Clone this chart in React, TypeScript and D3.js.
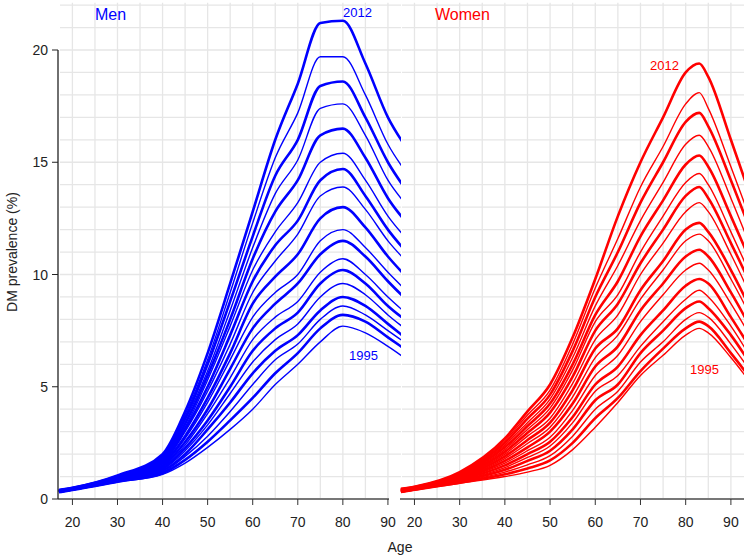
import * as d3 from "d3"

const years = d3.range(1995, 2013)

const menAges = [17, 20, 30, 40, 45, 50, 55, 60, 65, 70, 75, 80, 85, 90, 95]
const menValues = [
  [0.3, 0.4, 0.75, 1.1, 1.6, 2.3, 3.1, 4.0, 5.1, 6.0, 7.0, 7.7, 7.4, 6.8, 6.1],
  [0.3, 0.4, 0.77, 1.15, 1.74, 2.55, 3.5, 4.5, 5.6, 6.5, 7.6, 8.2, 7.9, 7.2, 6.5],
  [0.31, 0.41, 0.79, 1.2, 1.9, 2.8, 3.9, 5.1, 6.2, 6.9, 8.0, 8.6, 8.2, 7.5, 6.8],
  [0.32, 0.42, 0.8, 1.26, 2.0, 3.1, 4.3, 5.6, 6.6, 7.3, 8.4, 9.0, 8.6, 7.8, 7.0],
  [0.32, 0.42, 0.82, 1.32, 2.15, 3.3, 4.7, 6.1, 7.1, 7.8, 9.0, 9.6, 9.1, 8.2, 7.4],
  [0.33, 0.43, 0.84, 1.36, 2.27, 3.5, 5.0, 6.6, 7.6, 8.3, 9.6, 10.2, 9.6, 8.6, 7.8],
  [0.34, 0.44, 0.85, 1.42, 2.4, 3.8, 5.4, 7.1, 8.1, 8.8, 10.1, 10.7, 10.0, 9.0, 8.1],
  [0.34, 0.44, 0.87, 1.47, 2.54, 4.0, 5.8, 7.6, 8.7, 9.6, 10.9, 11.5, 10.8, 9.7, 8.7],
  [0.35, 0.45, 0.89, 1.52, 2.7, 4.3, 6.2, 8.1, 9.2, 10.0, 11.5, 12.0, 11.2, 10.1, 9.1],
  [0.35, 0.45, 0.91, 1.58, 2.8, 4.5, 6.5, 8.7, 9.9, 10.9, 12.5, 13.0, 12.1, 10.8, 9.7],
  [0.36, 0.46, 0.93, 1.63, 3.0, 4.8, 6.9, 9.2, 10.6, 11.8, 13.5, 13.9, 12.9, 11.5, 10.4],
  [0.36, 0.46, 0.95, 1.68, 3.1, 5.0, 7.3, 9.7, 11.3, 12.4, 14.2, 14.7, 13.5, 12.0, 10.8],
  [0.37, 0.47, 0.96, 1.74, 3.2, 5.3, 7.7, 10.2, 11.9, 13.2, 15.0, 15.4, 14.2, 12.6, 11.4],
  [0.38, 0.48, 0.98, 1.78, 3.35, 5.5, 8.0, 10.7, 12.8, 14.2, 16.2, 16.5, 15.2, 13.4, 12.1],
  [0.38, 0.48, 1.0, 1.84, 3.5, 5.7, 8.4, 11.2, 13.6, 15.1, 17.4, 17.6, 16.2, 14.2, 12.9],
  [0.39, 0.49, 1.01, 1.9, 3.6, 6.0, 8.8, 11.7, 14.4, 16.0, 18.4, 18.6, 17.0, 15.0, 13.5],
  [0.39, 0.49, 1.03, 1.95, 3.75, 6.2, 9.2, 12.3, 15.2, 17.2, 19.7, 19.7, 18.0, 15.8, 14.3],
  [0.4, 0.5, 1.05, 2.0, 3.9, 6.5, 9.6, 12.8, 16.0, 18.5, 21.2, 21.3, 19.4, 17.0, 15.4],
]

const womenAges = [17, 20, 30, 40, 45, 50, 55, 60, 65, 70, 75, 80, 83, 85, 90, 95]
const womenValues = [
  [0.3, 0.4, 0.7, 1.0, 1.2, 1.5, 2.2, 3.2, 4.3, 5.5, 6.4, 7.3, 7.6, 7.4, 6.3, 5.0],
  [0.31, 0.41, 0.73, 1.1, 1.36, 1.72, 2.5, 3.6, 4.5, 5.7, 6.7, 7.6, 7.9, 7.7, 6.5, 5.2],
  [0.32, 0.42, 0.76, 1.2, 1.52, 1.93, 2.8, 4.0, 4.8, 6.1, 7.0, 8.0, 8.3, 8.1, 6.9, 5.5],
  [0.33, 0.43, 0.79, 1.3, 1.7, 2.15, 3.1, 4.4, 5.1, 6.5, 7.5, 8.5, 8.8, 8.5, 7.3, 5.8],
  [0.34, 0.44, 0.82, 1.4, 1.85, 2.36, 3.4, 4.8, 5.5, 6.8, 7.9, 8.9, 9.3, 9.0, 7.7, 6.1],
  [0.34, 0.44, 0.85, 1.5, 2.0, 2.55, 3.65, 5.1, 5.9, 7.3, 8.4, 9.5, 9.8, 9.6, 8.1, 6.5],
  [0.35, 0.45, 0.88, 1.6, 2.15, 2.75, 3.95, 5.5, 6.4, 7.9, 9.1, 10.2, 10.5, 10.2, 8.7, 7.0],
  [0.36, 0.46, 0.9, 1.7, 2.3, 3.0, 4.25, 5.9, 6.8, 8.4, 9.6, 10.8, 11.1, 10.8, 9.2, 7.4],
  [0.37, 0.47, 0.93, 1.8, 2.47, 3.2, 4.55, 6.3, 7.3, 8.9, 10.2, 11.5, 11.8, 11.5, 9.8, 7.9],
  [0.38, 0.48, 0.96, 1.9, 2.63, 3.4, 4.85, 6.7, 7.6, 9.3, 10.6, 12.0, 12.3, 11.9, 10.2, 8.2],
  [0.39, 0.49, 1.0, 2.0, 2.8, 3.6, 5.15, 7.1, 8.2, 10.0, 11.4, 12.8, 13.2, 12.8, 10.9, 8.8],
  [0.4, 0.5, 1.03, 2.1, 2.95, 3.85, 5.45, 7.5, 8.7, 10.5, 12.0, 13.5, 13.9, 13.4, 11.4, 9.3],
  [0.41, 0.51, 1.06, 2.2, 3.1, 4.05, 5.75, 7.9, 9.1, 11.0, 12.6, 14.1, 14.5, 14.0, 11.9, 9.7],
  [0.41, 0.51, 1.08, 2.3, 3.25, 4.25, 6.0, 8.2, 9.7, 11.7, 13.3, 14.9, 15.3, 14.8, 12.6, 10.3],
  [0.42, 0.52, 1.11, 2.4, 3.4, 4.45, 6.3, 8.6, 10.4, 12.4, 14.1, 15.8, 16.2, 15.7, 13.4, 10.9],
  [0.43, 0.53, 1.14, 2.5, 3.58, 4.65, 6.6, 9.0, 11.0, 13.2, 15.0, 16.8, 17.2, 16.6, 14.2, 11.6],
  [0.44, 0.54, 1.17, 2.6, 3.74, 4.85, 6.9, 9.4, 11.6, 13.9, 15.7, 17.6, 18.1, 17.4, 14.8, 12.1],
  [0.45, 0.55, 1.2, 2.7, 3.9, 5.1, 7.2, 9.8, 12.6, 15.0, 17.0, 19.0, 19.4, 18.8, 16.0, 13.1],
]

const xTicks = [20, 30, 40, 50, 60, 70, 80, 90]
const yTicks = [0, 5, 10, 15, 20]

const font = "Liberation Sans, Arial, sans-serif"
const y = d3.scaleLinear().domain([0, 20]).range([499, 50])

interface PanelProps {
  id: string
  ages: number[]
  values: number[][]
  color: string
  range: [number, number]
  axisEnd: number
  title: string
  titleX: number
  topLabel: [number, number]
  bottomLabel: [number, number]
}

const Panel = (p: PanelProps) => {
  const x = d3.scaleLinear().domain([16.8, 92.9]).range(p.range)
  const line = d3
    .line<number>()
    .x((_, i) => x(p.ages[i]))
    .y((d) => y(d))
    .curve(d3.curveMonotoneX)
  const gridX = d3.range(20, 95, 5)
  const gridY = d3.range(1, 23)
  return (
    <g>
      <clipPath id={p.id}>
        <rect x={p.range[0]} y={0} width={p.range[1] - p.range[0]} height={500} />
      </clipPath>
      <g stroke="#e6e6e6" strokeWidth={1.3}>
        {gridX.map((a) => (
          <line key={"gx" + a} x1={x(a)} x2={x(a)} y1={y(0)} y2={y(22.1)} />
        ))}
        {gridY.map((v) => (
          <line key={"gy" + v} x1={p.range[0] + 2} x2={p.range[1]} y1={y(v)} y2={y(v)} />
        ))}
      </g>
      <g clipPath={`url(#${p.id})`} fill="none" stroke={p.color}>
        {p.values.map((row, i) => (
          <path key={years[i]} d={line(row) ?? ""} strokeWidth={(17 - i) % 2 === 0 ? 2.6 : 1.4} />
        ))}
      </g>
      <line x1={p.range[0]} x2={p.axisEnd} y1={499} y2={499} stroke="#777" strokeWidth={2} />
      {xTicks.map((t) => (
        <g key={t}>
          <line x1={x(t)} x2={x(t)} y1={499} y2={505} stroke="#333" />
          <text x={x(t)} y={527} textAnchor="middle" fontSize={14} fontFamily={font} fill="#222">
            {t}
          </text>
        </g>
      ))}
      <text x={p.titleX} y={20} fontSize={16} fontFamily={font} fill={p.color}>
        {p.title}
      </text>
      <text x={p.topLabel[0]} y={p.topLabel[1]} fontSize={13} fontFamily={font} fill={p.color}>
        2012
      </text>
      <text x={p.bottomLabel[0]} y={p.bottomLabel[1]} fontSize={13} fontFamily={font} fill={p.color}>
        1995
      </text>
    </g>
  )
}

export default function App() {
  return (
    <svg width={744} height={556} style={{ position: "absolute", left: 0, top: 0, background: "#fff" }}>
      <Panel
        id="menClip"
        ages={menAges}
        values={menValues}
        color="#0000ff"
        range={[58, 401]}
        axisEnd={389}
        title="Men"
        titleX={95}
        topLabel={[343, 17]}
        bottomLabel={[349, 360]}
      />
      <Panel
        id="womenClip"
        ages={womenAges}
        values={womenValues}
        color="#ff0000"
        range={[400, 744]}
        axisEnd={744}
        title="Women"
        titleX={435}
        topLabel={[650, 70]}
        bottomLabel={[690, 374]}
      />
      <line x1={58} x2={58} y1={y(0)} y2={y(20)} stroke="#222" strokeWidth={1.3} />
      {yTicks.map((t) => (
        <g key={t}>
          <line x1={52} x2={58} y1={y(t)} y2={y(t)} stroke="#222" />
          <text x={48} y={y(t) + 5} textAnchor="end" fontSize={14} fontFamily={font} fill="#222">
            {t}
          </text>
        </g>
      ))}
      <text
        transform={`translate(17,${y(11)}) rotate(-90)`}
        textAnchor="middle"
        fontSize={14}
        fontFamily={font}
        fill="#222"
      >
        DM prevalence (%)
      </text>
      <text x={400} y={552} textAnchor="middle" fontSize={14} fontFamily={font} fill="#222">
        Age
      </text>
    </svg>
  )
}
